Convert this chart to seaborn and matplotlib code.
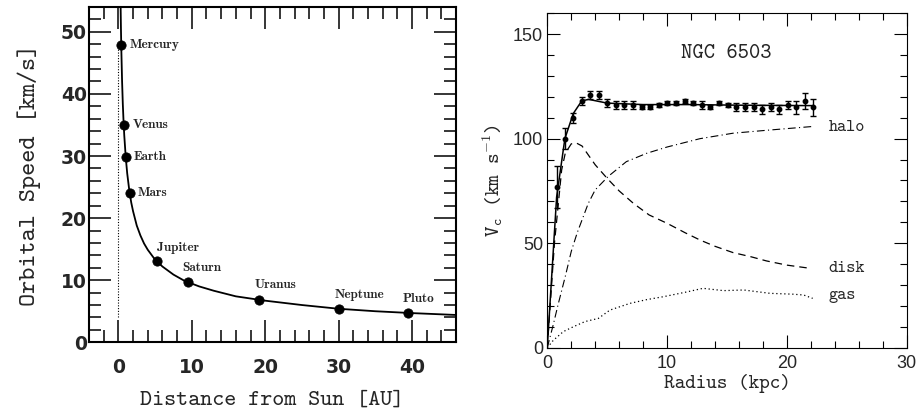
import matplotlib
matplotlib.use("Agg")
import matplotlib.pyplot as plt
from matplotlib.ticker import MultipleLocator
import seaborn as sns

# Solar system: orbital speeds of the planets
planets = ["Mercury", "Venus", "Earth", "Mars", "Jupiter", "Saturn",
           "Uranus", "Neptune", "Pluto"]
planet_dist = [0.39, 0.72, 1.0, 1.52, 5.2, 9.5, 19.2, 30.1, 39.5]
planet_speed = [47.9, 35.0, 29.8, 24.1, 13.1, 9.7, 6.8, 5.4, 4.7]

# Keplerian curve
kepler_dist = [0.30, 0.35, 0.40, 0.50, 0.60, 0.70, 0.80, 1.0, 1.2, 1.5, 1.75,
               2.0, 2.5, 3.0, 3.5, 4.0, 5.0, 6.0, 7.5, 9.0, 11.0, 13.0, 16.0,
               20.0, 25.0, 30.0, 35.0, 40.0, 46.0]
kepler_speed = [54.4, 50.3, 47.1, 42.1, 38.4, 35.6, 33.3, 29.8, 27.2, 24.3, 22.5,
                21.1, 18.8, 17.2, 15.9, 14.9, 13.3, 12.2, 10.9, 9.9, 9.0, 8.3, 7.4,
                6.7, 6.0, 5.4, 5.0, 4.7, 4.4]

# NGC 6503 rotation curve
ngc_radius = [0.78, 1.48, 2.17, 2.87, 3.6, 4.28, 5.0, 5.71, 6.43, 7.15, 7.87,
              8.58, 9.3, 10.02, 10.74, 11.46, 12.18, 12.9, 13.62, 14.34, 15.06,
              15.78, 16.5, 17.22, 17.94, 18.66, 19.38, 20.1, 20.8, 21.5, 22.2]
ngc_vel = [77, 100, 110, 118, 121, 121, 117, 116, 116, 116, 115, 115, 116, 117,
           117, 118, 117, 116, 115, 117, 116, 115, 115, 115, 114, 115, 114, 116,
           115, 118, 115]
ngc_err = [10, 5, 2.5, 2, 2, 2, 2, 2, 2, 2, 1, 1, 1, 1, 1, 1, 1, 2, 1, 1, 1,
           2, 2, 2, 2, 2, 2, 2, 3, 4, 4]

fit_r = [0, 0.78, 1.47, 2.17, 2.87, 3.45, 5.0, 8.0, 12.0, 16.0, 22.2]
fit_v = [0, 72, 100, 112, 118, 118.8, 117, 116.3, 116.3, 116, 115.8]

disk_r = [0, 0.6, 1.2, 1.5, 2.0, 2.4, 2.9, 4.0, 5.0, 6.0, 7.2, 8.5, 10.0,
          11.5, 12.75, 14.0, 15.5, 17.0, 18.3, 20.0, 21.9]
disk_v = [0, 50, 85, 93, 97.5, 98, 96.5, 87.5, 81, 75, 69, 63.5, 59.5,
          55, 51.5, 48.5, 45.5, 43.5, 41.5, 39.5, 38]

halo_r = [0, 0.5, 0.92, 1.5, 2.0, 2.5, 3.42, 4.0, 5.1, 6.6, 8.3, 10.0,
          12.75, 15.5, 18.3, 22.1]
halo_v = [0, 11, 21, 34, 46, 55, 69, 75.5, 82, 89, 93, 96,
          100, 102.6, 104, 105.8]

gas_r = [0, 0.5, 1.0, 1.34, 2.17, 3.15, 4.26, 5.23, 6.9, 8.3, 9.7, 11.5,
         13.0, 14.7, 16.4, 18.6, 20.5, 21.4, 22.15]
gas_v = [0, 3.5, 6, 7.7, 10, 12.5, 14, 18, 21.2, 23, 24.4, 26.5,
         28.4, 27.3, 27.6, 26, 25.6, 25.2, 23.6]

component_names = ["halo", "disk", "gas"]
component_label_v = [105.3, 38, 25.2]

# label offsets in points (placement only)
label_offsets = [(6, 0), (6.5, 0), (6, 0), (6, 0), (0, 9.6), (-3.9, 10.4),
                 (-3.6, 10.8), (-3.2, 9.6), (-4, 10.4)]

sns.set_theme(style="ticks")
plt.rcParams["mathtext.fontset"] = "cm"
plt.rcParams["font.family"] = ["DejaVu Sans"]

fig = plt.figure(figsize=(9.17, 4.16), dpi=100)
ax1 = fig.add_axes([0.0971, 0.1772, 0.4002, 0.806])
ax2 = fig.add_axes([0.5968, 0.1642, 0.392, 0.804])

# ---- left panel ----
ax1.plot([0, 0], [4, 48], color="black", lw=0.8, ls=(0, (1, 1.5)))
sns.lineplot(x=kepler_dist, y=kepler_speed, ax=ax1, color="black", lw=1.3,
             sort=False, estimator=None)
sns.scatterplot(x=planet_dist, y=planet_speed, ax=ax1, color="black",
                edgecolor="black", s=45, zorder=3)
for name, x, y, off in zip(planets, planet_dist, planet_speed, label_offsets):
    ax1.annotate(name, (x, y), xytext=off, textcoords="offset points",
                 ha="left", va="center", fontfamily="cmb10", fontsize=9.5)

ax1.set_xlim(-4, 46)
ax1.set_ylim(0, 54)
ax1.xaxis.set_major_locator(MultipleLocator(10))
ax1.xaxis.set_minor_locator(MultipleLocator(2))
ax1.yaxis.set_major_locator(MultipleLocator(10))
ax1.yaxis.set_minor_locator(MultipleLocator(2))
ax1.tick_params(which="both", direction="in", top=True, right=True,
                color="black", width=1.1)
ax1.tick_params(which="major", length=16)
ax1.tick_params(which="minor", length=8.5)
ax1.tick_params(axis="x", which="major", pad=11.5)
ax1.tick_params(axis="y", which="major", pad=1.5)
for lab in ax1.get_xticklabels() + ax1.get_yticklabels():
    lab.set_fontweight("bold")
    lab.set_fontsize(13.5)
for sp in ax1.spines.values():
    sp.set_linewidth(1.5)
    sp.set_color("black")
ax1.set_xlabel("Distance from Sun [AU]", fontfamily="cmtt10", fontsize=16.5,
               labelpad=10)
ax1.set_ylabel("Orbital Speed [km/s]", fontfamily="cmtt10", fontsize=18,
               labelpad=14)

# ---- right panel ----
sns.lineplot(x=fit_r, y=fit_v, ax=ax2, color="black", lw=1.1,
             sort=False, estimator=None)
sns.lineplot(x=disk_r, y=disk_v, ax=ax2, color="black", lw=0.9,
             sort=False, estimator=None)
ax2.lines[-1].set_dashes((6, 4))
sns.lineplot(x=halo_r, y=halo_v, ax=ax2, color="black", lw=0.8,
             sort=False, estimator=None)
ax2.lines[-1].set_dashes((7, 3, 1, 3))
sns.lineplot(x=gas_r, y=gas_v, ax=ax2, color="black", lw=0.9,
             sort=False, estimator=None)
ax2.lines[-1].set_dashes((1, 2.2))
ax2.errorbar(ngc_radius, ngc_vel, yerr=ngc_err, fmt="o", ms=3.2,
             color="black", ecolor="black", elinewidth=1, capsize=2.2,
             capthick=1, zorder=4)

for name, v in zip(component_names, component_label_v):
    ax2.text(23.46, v, name, ha="left", va="center", fontfamily="cmtt10",
             fontsize=12.5)
ax2.text(14.97, 140.9, "NGC 6503", ha="center", va="center",
         fontfamily="cmtt10", fontsize=15.5)

ax2.set_xlim(0, 30)
ax2.set_ylim(0, 160)
ax2.xaxis.set_major_locator(MultipleLocator(10))
ax2.xaxis.set_minor_locator(MultipleLocator(2))
ax2.yaxis.set_major_locator(MultipleLocator(50))
ax2.yaxis.set_minor_locator(MultipleLocator(10))
ax2.tick_params(which="both", direction="in", top=True, right=True,
                color="black", width=0.8)
ax2.tick_params(which="major", length=9.5)
ax2.tick_params(which="minor", length=5)
ax2.tick_params(axis="x", which="major", pad=5)
ax2.tick_params(axis="y", which="major", pad=3)
for lab in ax2.get_xticklabels() + ax2.get_yticklabels():
    lab.set_fontfamily("Liberation Sans")
    lab.set_fontsize(13)
for sp in ax2.spines.values():
    sp.set_linewidth(0.8)
    sp.set_color("black")
ax2.set_xlabel("Radius (kpc)", fontfamily="cmtt10", fontsize=14.5, labelpad=2)
ax2.set_ylabel(r"V$_{\mathtt{c}}$ (km s$^{\mathtt{-1}}$)", fontfamily="cmtt10",
               fontsize=14.5, labelpad=6)

fig.savefig("out.png", dpi=100)
